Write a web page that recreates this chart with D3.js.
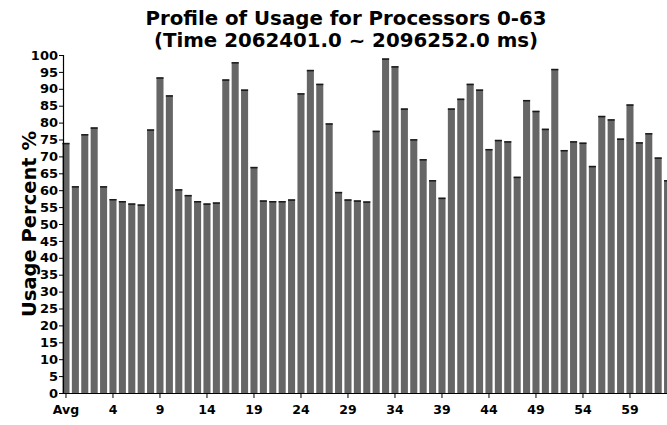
<!DOCTYPE html>
<html>
<head>
<meta charset="utf-8">
<script src="https://cdn.jsdelivr.net/npm/d3@7/dist/d3.min.js"></script>
<style>
  body { margin: 0; background: #fff; }
  svg { display: block; font-family: "DejaVu Sans", sans-serif; }
</style>
</head>
<body>
<div id="chart"></div>
<script>
// values
var titleLines = ["Profile of Usage for Processors 0-63", "(Time 2062401.0 ~ 2096252.0 ms)"]
var yTitle = "Usage Percent %"
var avgUsage = 74.0
var procIds = d3.range(64).map(String)
var usage = [61.2, 76.6, 78.6, 61.2, 57.4, 56.8, 56.1, 55.8, 78.0, 93.4,
             88.1, 60.3, 58.6, 56.8, 56.1, 56.4, 92.8, 97.9, 89.8, 66.9,
             57.0, 56.8, 56.8, 57.3, 88.7, 95.6, 91.5, 79.8, 59.5, 57.3,
             57.0, 56.7, 77.6, 99.0, 96.7, 84.2, 75.1, 69.2, 63.0, 57.8,
             84.2, 87.1, 91.5, 89.8, 72.2, 74.9, 74.5, 64.0, 86.7, 83.5,
             78.2, 95.9, 71.9, 74.5, 74.1, 67.2, 82.0, 81.0, 75.3, 85.4,
             74.2, 76.9, 69.7, 63.0]
var xTickLabels = ["Avg", "4", "9", "14", "19", "24", "29", "34", "39", "44", "49", "54", "59"]
var yTicks = d3.range(0, 101, 5)

var categories = ["Avg"].concat(procIds)
var values = [avgUsage].concat(usage)
var data = categories.map(function (c, i) { return {name: c, value: values[i]} })

var W = 667, H = 425
var axisX = 63, y0 = 393, y100 = 55

var svg = d3.select("#chart").append("svg")
    .attr("width", W)
    .attr("height", H)

var x = d3.scaleBand()
    .domain(categories)
    .range([60.1, 60.1 + 9.4 * 65.25])
    .padding(0.25)

var y = d3.scaleLinear().domain([0, 100]).range([y0, y100])

// bars
var bars = svg.append("g").selectAll("g.bar")
    .data(data)
    .enter()
    .append("g")
    .attr("class", "bar")

bars.append("rect")
    .attr("x", function (d) { return x(d.name) })
    .attr("y", function (d) { return y(d.value) })
    .attr("width", x.bandwidth())
    .attr("height", function (d) { return y0 - y(d.value) })
    .attr("fill", "#666666")

// dark line on top of each bar
bars.append("rect")
    .attr("x", function (d) { return x(d.name) })
    .attr("y", function (d) { return y(d.value) })
    .attr("width", x.bandwidth())
    .attr("height", 1.5)
    .attr("fill", "#1a1a1a")

// y axis with minor ticks
var yAxis = svg.append("g").attr("transform", "translate(" + axisX + ",0)")
yAxis.call(d3.axisLeft(y).tickValues(d3.range(0, 101, 1)).tickSize(2).tickFormat(""))
yAxis.call(d3.axisLeft(y).tickValues(yTicks).tickSize(4).tickFormat(d3.format("d")))
yAxis.selectAll("path.domain").attr("stroke", "#000").attr("stroke-width", 1.2)
yAxis.selectAll("line").attr("stroke", "#000")
yAxis.selectAll("text")
    .attr("x", -5)
    .attr("fill", "#000")
    .style("font-family", "DejaVu Sans")
    .style("font-weight", "bold")
    .style("font-size", "13px")

// x axis
var xAxis = svg.append("g").attr("transform", "translate(0," + y0 + ")")
xAxis.call(d3.axisBottom(x).tickSize(3).tickFormat("").tickSizeOuter(0))
xAxis.call(d3.axisBottom(x)
    .tickValues(xTickLabels)
    .tickSize(5)
    .tickSizeOuter(0))
xAxis.select("path.domain").attr("d", "M" + axisX + ",0.5H" + W).attr("stroke", "#000").attr("stroke-width", 1.2)
xAxis.selectAll("line").attr("stroke", "#000")
xAxis.selectAll("text")
    .attr("y", 12)
    .attr("fill", "#000")
    .style("font-family", "DejaVu Sans")
    .style("font-weight", "bold")
    .style("font-size", "12.5px")

// title
svg.selectAll("text.title")
    .data(titleLines)
    .enter()
    .append("text")
    .attr("class", "title")
    .attr("x", 346)
    .attr("y", function (d, i) { return 25 + i * 22 })
    .attr("text-anchor", "middle")
    .attr("font-weight", "bold")
    .attr("font-size", "19.8px")
    .text(function (d) { return d })

// y axis title
svg.append("text")
    .attr("transform", "translate(36,224) rotate(-90)")
    .attr("text-anchor", "middle")
    .attr("font-weight", "bold")
    .attr("font-size", "19.5px")
    .text(yTitle)
</script>
</body>
</html>
